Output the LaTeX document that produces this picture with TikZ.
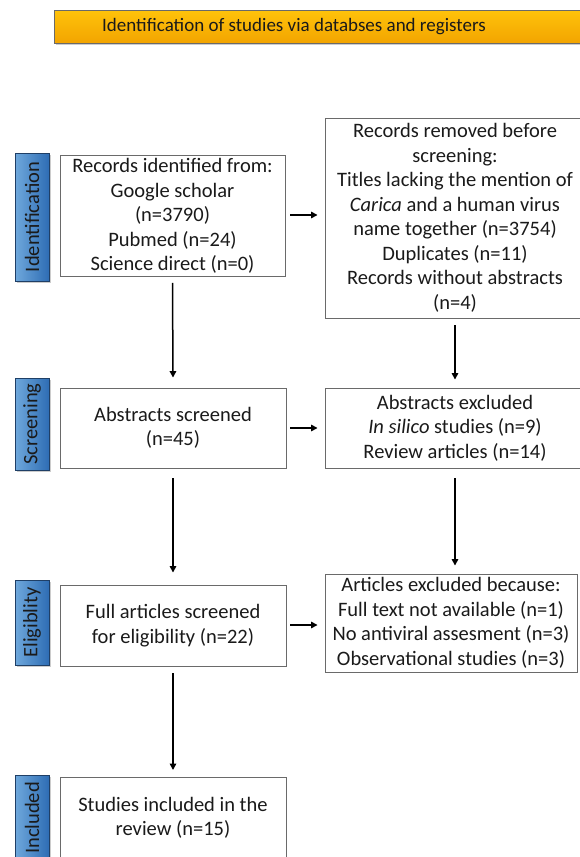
\documentclass[tikz,border=0pt]{standalone}
\usepackage{fontspec}
\setmainfont{Carlito}
\usetikzlibrary{arrows.meta,shadows}
\definecolor{frame}{HTML}{6A6A6A}
\definecolor{tabL}{HTML}{6FA8DC}
\definecolor{tabR}{HTML}{2E6DB4}
\definecolor{tabB}{HTML}{1F3F66}
\definecolor{goldT}{HTML}{FFC20A}
\definecolor{goldB}{HTML}{F2A400}
\definecolor{ink}{HTML}{1A1A1A}
\tikzset{
  box/.style={draw=frame, line width=0.9pt, fill=white, align=center, inner sep=1pt,
    text=ink, font=\fontsize{20.5}{24.5}\selectfont},
  tab/.style={draw=tabB, line width=0.8pt, left color=tabL, right color=tabR,
    minimum width=34pt, drop shadow={shadow xshift=1.5pt, shadow yshift=-1.5pt, opacity=0.4},
    inner sep=0pt},
  tabtext/.style={rotate=90, text=ink, font=\fontsize{20.5}{24}\selectfont},
  flow/.style={line width=1.5pt, -{Triangle[length=6.5pt,width=6.5pt]}},
}
\begin{document}
\begin{tikzpicture}[x=1pt,y=-1pt]
\useasboundingbox (0,0) rectangle (579,857);
% title
\node[draw=frame, line width=0.9pt, top color=goldT, bottom color=goldB,
  minimum width=530pt, minimum height=33pt, inner sep=0pt,
  drop shadow={shadow xshift=1.5pt, shadow yshift=-1.5pt, opacity=0.4},
  anchor=west] (title) at (54,27) {};
\node[text=ink, font=\fontsize{19}{22}\selectfont] (titletext) at (294,27) {Identification of studies via databses and registers};
% stage tabs
\node[tab, minimum height=128pt] (tid) at (32,217) {};
\node[tabtext] (tidt) at (tid) {Identification};
\node[tab, minimum height=92pt] (tsc) at (32,424) {};
\node[tabtext] (tsct) at (tsc) {Screening};
\node[tab, minimum height=85pt] (tel) at (32,622.5) {};
\node[tabtext] (telt) at (tel) {Eligiblity};
\node[tab, minimum height=90pt] (tin) at (32,820) {};
\node[tabtext] (tint) at (32,818) {Included};
% boxes
\node[box, minimum width=225pt, minimum height=121pt] (b1) at (172.5,216)
  {Records identified from:\\Google scholar\\(n=3790)\\Pubmed (n=24)\\Science direct (n=0)};
\node[box, minimum width=260pt, minimum height=200pt] (b2) at (455,218)
  {Records removed before\\screening:\\Titles lacking the mention of\\\textit{Carica} and a human virus\\name together (n=3754)\\Duplicates (n=11)\\Records without abstracts\\(n=4)};
\node[box, minimum width=226pt, minimum height=80pt] (b3) at (173,428)
  {Abstracts screened\\(n=45)};
\node[box, minimum width=260pt, minimum height=80pt] (b4) at (455,428)
  {Abstracts excluded\\\textit{In silico} studies (n=9)\\Review articles (n=14)};
\node[box, minimum width=252pt, minimum height=98pt] (b6) at (451,623)
  {Articles excluded because:\\Full text not available (n=1)\\No antiviral assesment (n=3)\\Observational studies (n=3)};
\node[box, minimum width=226pt, minimum height=81pt] (b5) at (173,625.5)
  {Full articles screened\\for eligibility (n=22)};
\node[box, minimum width=226pt, minimum height=100pt, anchor=north] (b7) at (173,777) {};
\node[align=center, text=ink, font=\fontsize{20.5}{24.5}\selectfont] (b7t) at (173,818)
  {Studies included in the\\review (n=15)};
% arrows
\draw[flow] ([xshift=5pt]b1.east |- 0,215) -- ([xshift=-7pt]b2.west |- 0,215);
\draw[flow] ([xshift=4pt]b3.east) -- ([xshift=-7pt]b4.west);
\draw[flow] ([xshift=4pt]b5.east |- 0,625) -- ([xshift=-7pt]b6.west |- 0,625);
\draw[flow] ([yshift=-6pt]b1.south) -- ([yshift=10pt]b3.north);
\draw[flow] ([yshift=-7pt]b2.south) -- ([yshift=8pt]b4.north);
\draw[flow] ([yshift=-10pt]b3.south) -- ([yshift=12pt]b5.north);
\draw[flow] ([yshift=-10pt]b4.south) -- ([yshift=8pt]b4.south |- b6.north);
\draw[flow] ([yshift=-7pt]b5.south) -- ([yshift=7pt]b7.north);
\end{tikzpicture}
\end{document}
